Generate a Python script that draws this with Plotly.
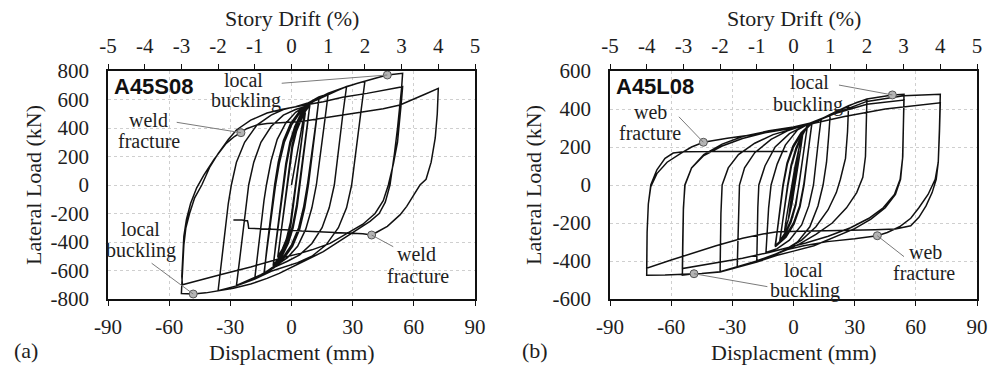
import plotly.graph_objects as go

# ---------------- data: A45S08 (panel a) ----------------
# displacement (mm) / lateral load (kN), read cycle by cycle
a_c1_x = [0, 2, 4, 5.5, 6.75, 5.5, 4.3, 3.2, 2.2, 1, -0.5, -2.5, -4.5, -6.75, -5.5, -4.3, -3.2, -2.2, -1, 0.5, 2.5, 4.5, 6.75]
a_c1_y = [0, 170, 330, 440, 505, 370, 230, 110, 0, -130, -260, -380, -450, -505, -370, -230, -110, 0, 130, 260, 380, 450, 510]
a_c1b_x = [5.6, 4.5, 3.4, 2.5, 1.2, -0.3, -2.2, -4.2, -6.7, -5.6, -4.5, -3.4, -2.5, -1.2, 0.3, 2.2, 4.2, 6.7]
a_c1b_y = [380, 250, 120, 0, -150, -280, -390, -460, -510, -385, -250, -120, 0, 150, 280, 390, 460, 515]
a_c2_x = [9, 7.6, 6.2, 4.8, 3.8, 2.5, 0.5, -2, -5, -9, -7.6, -6.2, -4.8, -3.8, -2.5, -0.5, 2, 5, 9]
a_c2_y = [560, 410, 260, 110, 0, -140, -290, -400, -490, -565, -410, -260, -110, 0, 140, 290, 400, 490, 565]
a_c2b_x = [7.8, 6.5, 5.2, 4.2, 2.8, 0.8, -1.6, -4.6, -8.9, -7.8, -6.5, -5.2, -4.2, -2.8, -0.8, 1.6, 4.6, 8.9]
a_c2b_y = [420, 270, 110, 0, -150, -300, -410, -500, -570, -420, -270, -110, 0, 150, 300, 410, 500, 568]
a_c3_x = [11, 13.5, 12, 10.5, 9, 7.8, 6, 3.5, 0, -4.5, -9, -13.5, -12, -10.5, -9, -7.8, -6, -3.5, 0, 4.5, 9, 13.5]
a_c3_y = [590, 612, 440, 270, 110, 0, -150, -300, -420, -515, -575, -620, -450, -280, -110, 0, 150, 300, 420, 515, 575, 615]
a_c3b_x = [12.2, 10.8, 9.4, 8.3, 6.5, 4, 0.5, -4, -8.5, -13.4, -12.2, -10.8, -9.4, -8.3, -6.5, -4, -0.5, 4, 8.5, 13.4]
a_c3b_y = [450, 285, 120, 0, -160, -310, -430, -520, -580, -622, -455, -285, -115, 0, 160, 310, 430, 520, 578, 618]
a_c4_x = [16, 18, 16.4, 14.8, 13.3, 12.2, 10, 7, 3, -2, -6, -12, -18, -16.5, -15, -13.5, -12.3, -10, -7, -3, 2, 6, 12, 18]
a_c4_y = [630, 642, 460, 280, 110, 0, -160, -310, -430, -510, -550, -610, -655, -470, -290, -110, 0, 170, 320, 430, 510, 545, 600, 645]
a_c5_x = [22, 27, 25.2, 23.6, 22, 21, 18.5, 15, 10, 4, -2, -8, -15, -21, -27, -25.4, -23.8, -22.2, -21, -18.5, -15, -10, -4, 2, 6, 12, 18, 23, 27]
a_c5_y = [665, 690, 500, 310, 120, 0, -160, -300, -410, -490, -535, -575, -630, -670, -705, -520, -330, -130, 0, 160, 300, 410, 490, 530, 548, 595, 635, 668, 692]
a_c6_x = [31, 36, 34.2, 32.5, 30.8, 29.5, 27, 23, 17, 10, 3, -4, -10, -18, -27, -36, -34.3, -32.6, -31, -29.5, -27, -23, -17, -10, -4, 2, 8, 15.6, 22, 27, 32, 37]
a_c6_y = [708, 728, 530, 330, 130, 0, -160, -300, -420, -500, -545, -575, -605, -660, -708, -742, -540, -330, -130, 0, 160, 300, 420, 490, 530, 550, 575, 620, 660, 690, 712, 730]
a_c7_x = [42, 47, 51, 54.5, 54, 53.2, 52, 50.5, 48.3, 46, 43, 38.5, 33.6, 25, 15.6, 6, -0.7, -6, -12, -20, -28.5, -36, -42, -48.2, -54]
a_c7_y = [752, 772, 780, 784, 680, 560, 400, 220, 0, -120, -200, -255, -300, -385, -468, -535, -585, -620, -655, -695, -725, -745, -757, -765, -762]
a_c8_x = [-53.8, -53.4, -52.8, -51.8, -50, -47.5, -44, -40, -36, -31, -27, -20, -12, -5, 0, 6, 15.6, 25, 37, 46, 53.2, 54.5,
          54, 53.2, 52, 50, 47.5, 45, 41, 35, 27, 18.9, 10, 4.2, -3, -10.5, -20, -35, -45, -53.5]
a_c8_y = [-700, -560, -420, -300, -200, -90, 0, 128, 220, 320, 386, 455, 505, 530, 545, 560, 585, 615, 643, 668, 688, 690,
          600, 460, 300, 150, 0, -110, -200, -275, -345, -410, -455, -480, -505, -538, -575, -630, -670, -700]
a_c9_x = [-53.8, -53.4, -52.8, -51.5, -49.5, -46.5, -43, -38, -32, -28, -24.8, -22, -17, -12, -5.6, 5, 15.6, 25, 36.9, 45, 53.2, 60, 66, 72,
          71.5, 70.5, 68.5, 66, 63, 60, 56.5, 53.2, 47, 42, 39.3, 35, 25, 18.9, 5, -0.7, -10, -21, -21.3, -21.6, -24.4, -28.5]
a_c9_y = [-640, -500, -360, -240, -130, -20, 70, 180, 292, 340, 367, 395, 421, 432, 437, 445, 470, 490, 514, 535, 561, 600, 640, 678,
          500, 330, 160, 40, 0, -70, -150, -210, -290, -330, -351, -342, -336, -333, -322, -316, -310, -304, -270, -250, -246, -246]

disp_a = ([0] + a_c1_x + a_c1b_x + a_c2_x + a_c2b_x + a_c3_x + a_c3b_x + a_c4_x + a_c5_x + a_c6_x
          + a_c7_x + a_c8_x + a_c9_x)
load_a = ([0] + a_c1_y + a_c1b_y + a_c2_y + a_c2b_y + a_c3_y + a_c3b_y + a_c4_y + a_c5_y + a_c6_y
          + a_c7_y + a_c8_y + a_c9_y)

# ---------------- data: A45L08 (panel b) ----------------
b_e1_x = [0, 1.2, 2.5, 1.5, 0.3, -1, -2.5, -1.5, -0.3, 1, 2.5]
b_e1_y = [0, 95, 180, 100, 0, -95, -180, -100, 0, 95, 185]
b_e2_x = [3.5, 4.5, 3.5, 2, 0.8, -0.8, -2.5, -4.5, -3.5, -2, -0.8, 0.8, 2.5, 4.5]
b_e2_y = [230, 265, 190, 80, 0, -100, -180, -250, -175, -70, 0, 100, 185, 268]
b_c1_x = [5.5, 6.75, 5.5, 4, 2.7, 1, -1.5, -4, -6.75, -5.5, -4, -2.7, -1, 1.5, 4, 6.75]
b_c1_y = [290, 305, 215, 100, 0, -100, -190, -250, -295, -205, -90, 0, 100, 190, 255, 308]
b_c1b_x = [5.6, 4.2, 2.9, 1.2, -1.2, -3.8, -6.7, -5.6, -4.2, -2.9, -1.2, 1.2, 3.8, 6.7]
b_c1b_y = [220, 110, 0, -105, -195, -255, -300, -210, -95, 0, 105, 195, 258, 310]
b_c2_x = [9, 7.8, 6.3, 5, 3, 0, -4, -9, -7.8, -6.3, -5, -3, 0, 4, 9]
b_c2_y = [322, 230, 110, 0, -110, -200, -270, -320, -230, -110, 0, 110, 200, 270, 325]
b_c2b_x = [7.9, 6.5, 5.2, 3.2, 0.3, -3.7, -8.9, -7.9, -6.5, -5.2, -3.2, -0.3, 3.7, 8.9]
b_c2b_y = [235, 115, 0, -115, -205, -275, -325, -235, -115, 0, 115, 205, 275, 327]
b_c3_x = [11, 13.5, 12.4, 11, 9.8, 7.5, 4, -2, -8, -13.5, -13, -12.2, -11, -8, -4, 2, 8, 13.5]
b_c3_y = [335, 345, 250, 120, 0, -110, -210, -290, -335, -355, -250, -120, 0, 110, 210, 290, 325, 348]
b_c4_x = [16, 18, 17.2, 16.2, 14.5, 12, 8, 2, -4, -10, -18, -17.8, -17.5, -17, -14, -9, -2, 5, 10, 18]
b_c4_y = [360, 368, 250, 120, 0, -110, -220, -300, -340, -370, -398, -250, -120, 0, 100, 200, 270, 310, 325, 370]
b_c5_x = [22, 27, 26.5, 25.5, 23, 21, 17, 11, 4, -3, -8, -18, -27.6, -27.3, -27, -26.5, -24, -19, -11, -3, 4, 10, 18, 27]
b_c5_y = [392, 416, 280, 140, 30, -40, -130, -220, -290, -335, -360, -400, -432, -280, -120, 0, 90, 170, 240, 285, 310, 328, 372, 418]
b_c6_x = [31, 36, 35.7, 35.3, 34, 31, 26, 19, 11, 3, -3, -10, -18, -28, -36, -35.8, -35.6, -35, -32, -27, -19, -10, 0, 10, 18, 27, 36]
b_c6_y = [435, 451, 300, 150, 40, -40, -120, -200, -260, -310, -340, -370, -400, -432, -456, -300, -150, 0, 90, 160, 220, 265, 295, 328, 372, 418, 453]
b_c7_x = [45, 48.5, 54.2, 54, 53.6, 52.5, 50, 45, 38, 30, 20, 10, 0, -8, -18, -27.6, -36, -45, -48.8, -54.5,
          -54.3, -54, -53.3, -50, -44, -35, -25, -12, 0, 10, 20, 36, 54.2]
b_c7_y = [468, 474, 477, 320, 150, 30, -50, -120, -180, -230, -275, -320, -348, -370, -405, -435, -458, -466, -467, -474,
          -300, -130, 0, 90, 160, 215, 255, 285, 305, 330, 375, 425, 447]
b_c8_x = [54, 53.5, 52.3, 49.5, 44, 37, 28, 17, 6, -3, -12, -25, -40, -54.5,
          -54.3, -54, -53.2, -50, -44, -35, -25, -12, 0, 10, 20, 36, 54, 72]
b_c8_y = [300, 140, 30, -50, -120, -175, -225, -270, -305, -330, -355, -385, -415, -440,
          -280, -120, 0, 90, 155, 205, 245, 280, 305, 330, 375, 440, 470, 477]
b_c9_x = [71.6, 71, 69.5, 66, 61.5, 57.5, 52, 46, 41.1, 30, 16.6, 5, -3, -8, -18, -27.6, -36, -45, -54.5, -63, -72]
b_c9_y = [300, 120, 30, -50, -120, -175, -220, -250, -267, -283, -298, -320, -340, -360, -400, -432, -456, -466, -472, -474, -475]
b_c10_x = [-71.8, -71.2, -70, -67, -62, -55.3, -50, -44.2, -38, -32.5, -20, -8, 0, 10, 25, 45, 60, 72,
           71.6, 71, 70, 68, 65, 61.5, 57.5, 50, 40, 20, 0, -8, -15, -25, -38, -50, -60, -72]
b_c10_y = [-250, -100, -9, 60, 120, 167, 200, 225, 237, 246, 265, 285, 300, 325, 360, 400, 420, 433,
           280, 120, 30, -40, -110, -170, -215, -232, -236, -239, -242, -246, -258, -280, -320, -360, -395, -438]
b_c11_x = [-71.8, -71.2, -70, -67, -63, -59, -54, -40, -20, -5, -3]
b_c11_y = [-250, -100, 0, 80, 140, 168, 175, 176, 176, 175, 176]

disp_b = ([0] + b_e1_x + b_e2_x + b_c1_x + b_c1b_x + b_c2_x + b_c2b_x + b_c3_x + b_c4_x + b_c5_x + b_c6_x
          + b_c7_x + b_c8_x + b_c9_x + b_c10_x + b_c11_x)
load_b = ([0] + b_e1_y + b_e2_y + b_c1_y + b_c1b_y + b_c2_y + b_c2b_y + b_c3_y + b_c4_y + b_c5_y + b_c6_y
          + b_c7_y + b_c8_y + b_c9_y + b_c10_y + b_c11_y)

# event markers (disp mm, load kN)
ev_a_x = [47.0, -24.8, -48.2, 39.3]
ev_a_y = [772, 367, -765, -351]
ev_b_x = [48.5, -44.2, -48.8, 41.1]
ev_b_y = [474, 225, -467, -267]

disp_ticks = [-90, -60, -30, 0, 30, 60, 90]
disp_labels = ["-90", "-60", "-30", "0", "30", "60", "90"]
drift_ticks = [-5, -4, -3, -2, -1, 0, 1, 2, 3, 4, 5]
drift_labels = ["-5", "-4", "-3", "-2", "-1", "0", "1", "2", "3", "4", "5"]
load_ticks_a = [-800, -600, -400, -200, 0, 200, 400, 600, 800]
load_labels_a = ["-800", "-600", "-400", "-200", "0", "200", "400", "600", "800"]
load_ticks_b = [-600, -400, -200, 0, 200, 400, 600]
load_labels_b = ["-600", "-400", "-200", "0", "200", "400", "600"]

# ---------------- figure ----------------
W, H = 989, 369
SERIF = "Liberation Serif"
TXT = "#1e1e1e"

fig = go.Figure()
fig.add_trace(go.Scatter(x=disp_a, y=load_a, mode="lines", line=dict(color="#111", width=1.5),
                         xaxis="x", yaxis="y", hoverinfo="skip", showlegend=False))
fig.add_trace(go.Scatter(x=disp_b, y=load_b, mode="lines", line=dict(color="#111", width=1.5),
                         xaxis="x3", yaxis="y2", hoverinfo="skip", showlegend=False))
fig.add_trace(go.Scatter(x=drift_ticks, y=[None] * len(drift_ticks), mode="lines", xaxis="x2", yaxis="y",
                         hoverinfo="skip", showlegend=False))
fig.add_trace(go.Scatter(x=drift_ticks, y=[None] * len(drift_ticks), mode="lines", xaxis="x4", yaxis="y2",
                         hoverinfo="skip", showlegend=False))

dom_a = [108 / W, 475 / W]
dom_b = [610 / W, 977 / W]
dom_y = [70 / H, 298 / H]

tickfont = dict(family=SERIF, size=21, color=TXT)
grid = dict(showgrid=True, gridcolor="#cfcfcf", griddash="dot", gridwidth=1)
axline = dict(showline=True, linecolor="#111", linewidth=1.5, zeroline=False, automargin=False)

def xbot(dom):
    return dict(domain=dom, range=[-90, 90], tickvals=disp_ticks, ticktext=disp_labels, ticks="outside",
                ticklen=5, tickwidth=1.2, tickcolor="#111", mirror=True, tickfont=tickfont,
                ticklabelstandoff=3, **grid, **axline)

def xtop(over, anchor):
    return dict(overlaying=over, anchor=anchor, side="top", range=[-5, 5], tickvals=drift_ticks,
                ticktext=drift_labels, ticks="outside", ticklen=5, tickwidth=1.2, tickcolor="#111",
                showgrid=False, tickfont=tickfont, ticklabelstandoff=3, **axline)

def yax(dom, rng, tv, tt):
    return dict(domain=dom, range=rng, tickvals=tv, ticktext=tt, ticks="", mirror=True, tickfont=tickfont,
                ticklabelstandoff=13, **grid, **axline)

fig.update_layout(
    width=W, height=H, margin=dict(l=0, r=0, t=0, b=0, autoexpand=False),
    paper_bgcolor="white", plot_bgcolor="white",
    xaxis=dict(anchor="y", **xbot(dom_a)),
    xaxis2=xtop("x", "y"),
    yaxis=dict(anchor="x", **yax(dom_y, [-800, 800], load_ticks_a, load_labels_a)),
    xaxis3=dict(anchor="y2", **xbot(dom_b)),
    xaxis4=xtop("x3", "y2"),
    yaxis2=dict(anchor="x3", **yax(dom_y, [-600, 600], load_ticks_b, load_labels_b)),
)

# event markers
fig.add_trace(go.Scatter(x=ev_a_x, y=ev_a_y, mode="markers", xaxis="x", yaxis="y", hoverinfo="skip", showlegend=False,
                         marker=dict(size=8, color="#b4b4b4", line=dict(color="#555", width=1))))
fig.add_trace(go.Scatter(x=ev_b_x, y=ev_b_y, mode="markers", xaxis="x3", yaxis="y2", hoverinfo="skip", showlegend=False,
                         marker=dict(size=8, color="#b4b4b4", line=dict(color="#555", width=1))))

# leader lines (data-coordinate positions of the label ends)
leaders_a = [((-4.8, 714), 0), ((-56.3, 440), 1), ((-68.6, -549), 2), ((49.9, -433), 3)]
leaders_b = [((22.3, 526), 0), ((-56.2, 359), 1), ((-12.8, -535), 2), ((54.2, -377), 3)]
for (p, i) in leaders_a:
    fig.add_shape(type="line", xref="x", yref="y", x0=p[0], y0=p[1], x1=ev_a_x[i], y1=ev_a_y[i],
                  line=dict(color="#7a7a7a", width=1))
for (p, i) in leaders_b:
    fig.add_shape(type="line", xref="x3", yref="y2", x0=p[0], y0=p[1], x1=ev_b_x[i], y1=ev_b_y[i],
                  line=dict(color="#7a7a7a", width=1))

annfont = dict(family=SERIF, size=20, color=TXT)
labels_a = [("local", -23.3, 740), ("buckling", -22.1, 592), ("weld", -69.9, 456), ("fracture", -69.9, 309),
            ("local", -74.1, -309), ("buckling", -73.6, -463), ("weld", 61.3, -484), ("fracture", 61.8, -639)]
labels_b = [("local", 7.6, 542), ("buckling", 7.1, 426), ("web", -69.9, 386), ("fracture", -70.4, 275),
            ("local", 5.1, -447), ("buckling", 5.6, -553), ("web", 64.5, -353), ("fracture", 64.0, -463)]
for t, x, y in labels_a:
    fig.add_annotation(text=t, x=x, y=y, xref="x", yref="y", showarrow=False, font=annfont,
                       xanchor="center", yanchor="middle")
for t, x, y in labels_b:
    fig.add_annotation(text=t, x=x, y=y, xref="x3", yref="y2", showarrow=False, font=annfont,
                       xanchor="center", yanchor="middle")

bold = dict(family="Liberation Sans", size=22, color="#111")
fig.add_annotation(text="<b>A45S08</b>", x=-88, y=688, xref="x", yref="y", xanchor="left", yanchor="middle",
                   showarrow=False, font=bold)
fig.add_annotation(text="<b>A45L08</b>", x=-88, y=517, xref="x3", yref="y2", xanchor="left", yanchor="middle",
                   showarrow=False, font=bold)

def pap(text, px, py, angle=0, size=22):
    fig.add_annotation(text=text, x=px / W, y=1 - py / H, xref="paper", yref="paper", showarrow=False,
                       xanchor="center", yanchor="middle",
                       textangle=angle, font=dict(family=SERIF, size=size, color=TXT))

pap("Story Drift (%)", 291.5, 19)
pap("Story Drift (%)", 793.5, 19)
pap("Displacment (mm)", 291.5, 352)
pap("Displacment (mm)", 793.8, 352)
pap("Lateral Load (kN)", 34, 185, -90)
pap("Lateral Load (kN)", 534, 185, -90)
pap("(a)", 26, 350, 0, 22)
pap("(b)", 535, 350, 0, 22)

fig.write_html("out.html")
